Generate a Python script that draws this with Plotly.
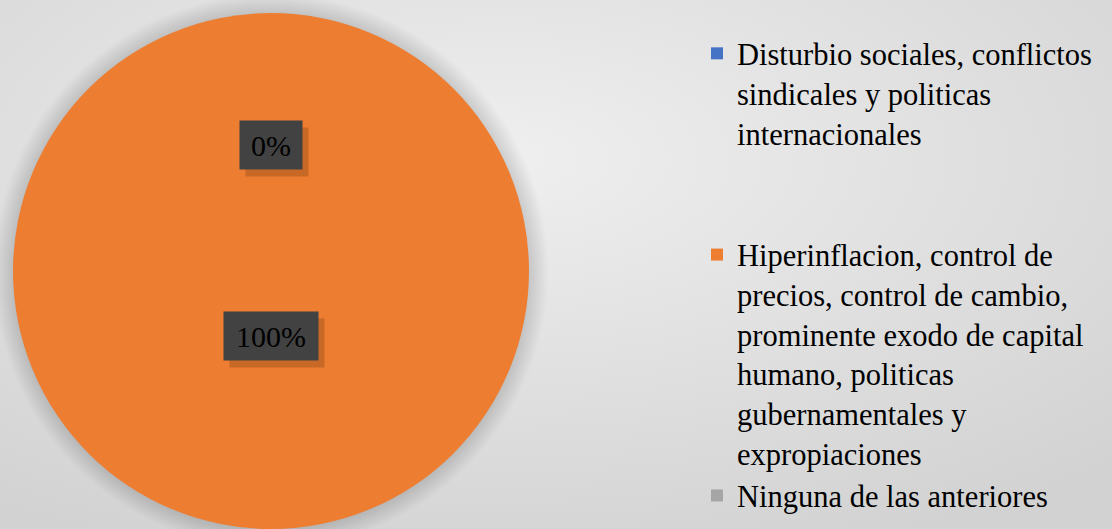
import base64, math
import plotly.graph_objects as go

# ---- data ----
categories = [
    "Disturbio sociales, conflictos<br>sindicales y politicas<br>internacionales<br>&nbsp;<br>&nbsp;",
    "Hiperinflacion, control de<br>precios, control de cambio,<br>prominente exodo de capital<br>humano, politicas<br>gubernamentales y<br>expropiaciones",
    "Ninguna de las anteriores",
]
values = [0, 100, 0]
colors = ["#4472C4", "#ED7D31", "#A5A5A5"]

# ---- layout constants ----
W, H = 1112, 529
CX, CY, R = 271, 271, 258          # pie centre / radius in pixels
label_r = [0.49, 0.25, 0.49]       # radial position of data labels (fraction of R)
label_w = [60, 92, 60]
SERIF = "Liberation Serif, Times New Roman, Times, DejaVu Serif, serif"


def clamp(v):
    return min(1.0, max(0.0, v))


fig = go.Figure()

fig.add_trace(go.Pie(
    labels=categories,
    values=values,
    marker=dict(colors=colors, line=dict(width=0)),
    sort=False,
    direction="clockwise",
    rotation=0,
    textinfo="none",
    hoverinfo="label+percent",
    domain=dict(x=[clamp((CX - R) / W), clamp((CX + R) / W)],
                y=[clamp((H - CY - R) / H), clamp((H - CY + R) / H)]),
))

# background radial gradient
svg = f'''<svg xmlns="http://www.w3.org/2000/svg" width="{W}" height="{H}" preserveAspectRatio="none">
<defs><radialGradient id="g" cx="45%" cy="30%" r="80%">
<stop offset="0%" stop-color="#EFEFEF"/><stop offset="100%" stop-color="#D2D2D2"/>
</radialGradient></defs><rect width="{W}" height="{H}" fill="url(#g)"/></svg>'''
src = "data:image/svg+xml;base64," + base64.b64encode(svg.encode()).decode()

shapes = []
# soft shadow around pie
for i in range(16, 0, -1):
    rr = R + i * 1.2
    shapes.append(dict(type="circle", xref="paper", yref="paper", layer="below",
                       x0=(CX - rr) / W, x1=(CX + rr) / W,
                       y0=(H - CY - rr) / H, y1=(H - CY + rr) / H,
                       fillcolor="rgba(0,0,0,0.008)", line=dict(width=0)))

annotations = []
total = sum(values)
cum = 0
seen = set()
for i, v in enumerate(values):
    mid = (cum + v / 2) / total * 360
    cum += v
    ang = math.radians(mid)
    px = CX + R * label_r[i] * math.sin(ang)
    py = CY - R * label_r[i] * math.cos(ang)
    key = (round(px), round(py))
    if key in seen:
        continue
    seen.add(key)
    txt = f"{v / total * 100:.0f}%"
    # shadow
    annotations.append(dict(x=(px + 6) / W, y=(H - py - 7) / H, xref="paper", yref="paper",
                            xanchor="center", yanchor="middle",
                            text=" ", showarrow=False, width=label_w[i], height=46,
                            bgcolor="rgba(70,30,0,0.22)", font=dict(size=26)))
    annotations.append(dict(x=px / W, y=(H - py) / H, xref="paper", yref="paper",
                            xanchor="center", yanchor="middle",
                            text=txt, showarrow=False, width=label_w[i], height=46,
                            bgcolor="#424242",
                            font=dict(family=SERIF, size=30, color="#000000")))

fig.update_layout(
    width=W, height=H,
    margin=dict(l=0, r=0, t=0, b=0),
    paper_bgcolor="#E2E2E2",
    font=dict(family=SERIF),
    images=[dict(source=src, xref="paper", yref="paper", x=0, y=1, sizex=1, sizey=1,
                 sizing="stretch", layer="below", xanchor="left", yanchor="top")],
    shapes=shapes,
    annotations=annotations,
    showlegend=True,
    legend=dict(x=697 / W, y=1 - 27 / H, xanchor="left", yanchor="top",
                valign="top", bgcolor="rgba(0,0,0,0)",
                font=dict(family=SERIF, size=30.5, color="#000000"),
                itemclick=False),
)

fig.write_html("out.html", config={"displayModeBar": False},
               post_script="document.body.style.margin='0';")
